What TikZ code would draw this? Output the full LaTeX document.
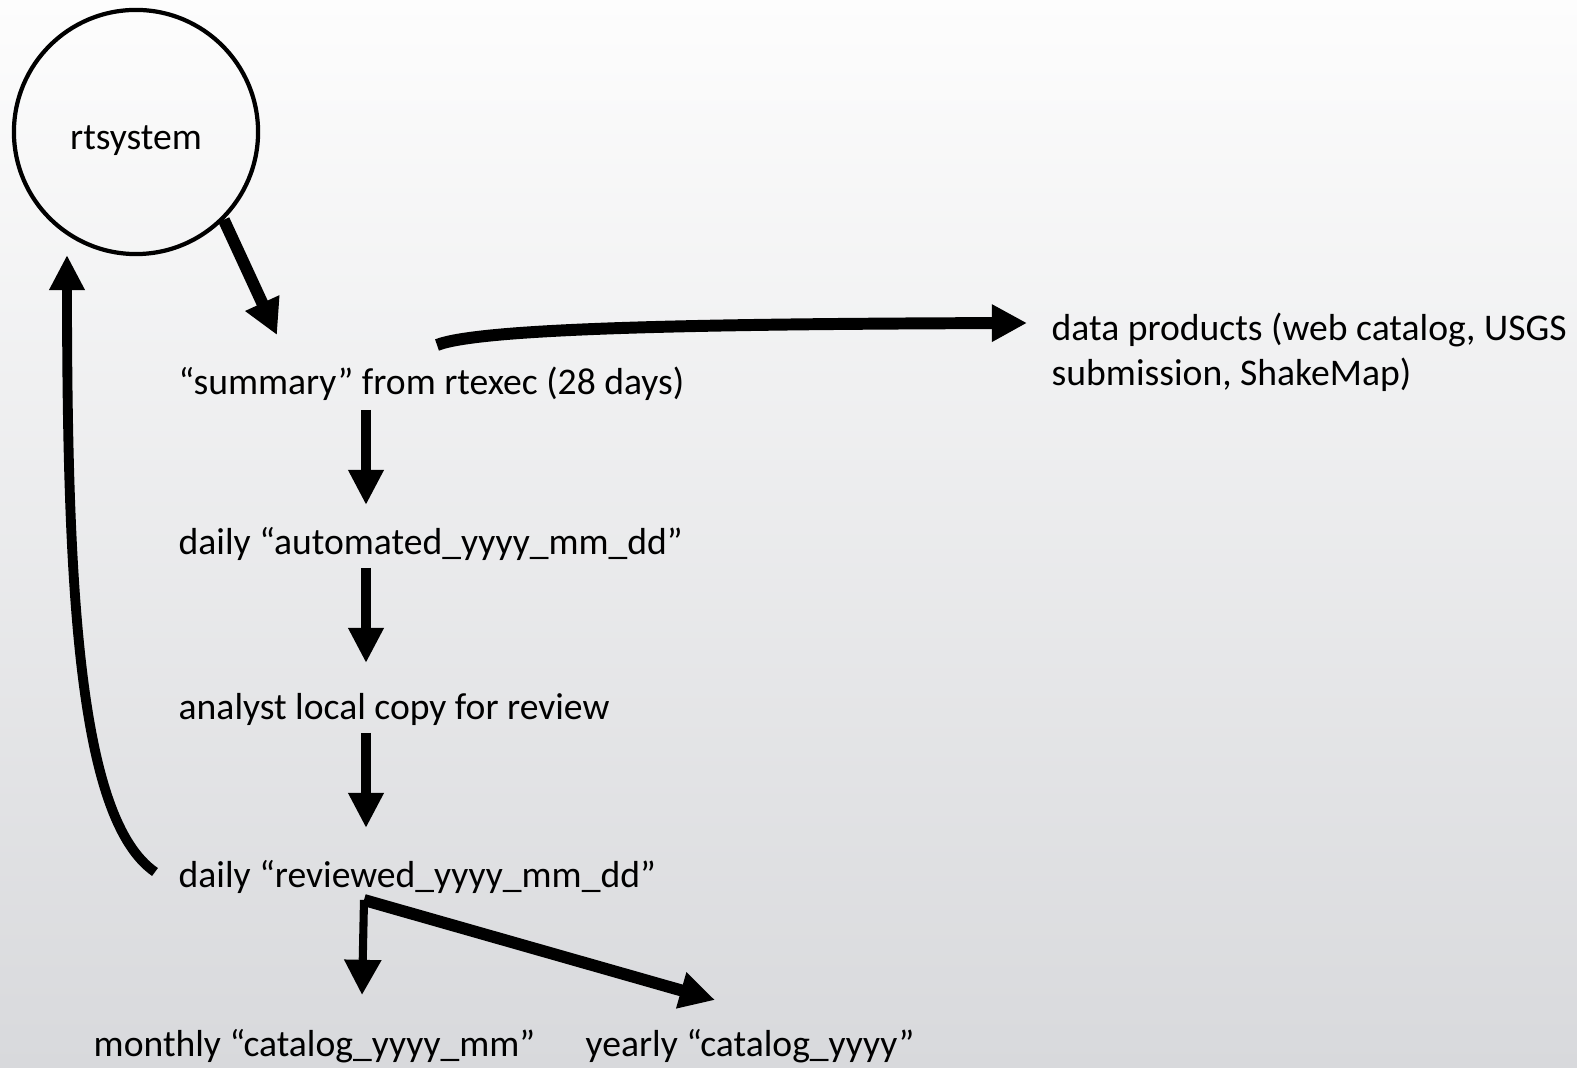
\documentclass[tikz,border=0pt]{standalone}
\usepackage{fontspec}
\setmainfont{Carlito}
\usetikzlibrary{arrows.meta}
\definecolor{bgtop}{RGB}{253,253,253}
\definecolor{bgbottom}{RGB}{216,217,220}

\begin{document}
\begin{tikzpicture}[x=0.01cm,y=-0.01cm,
  thick flow/.style={line width=3.4pt,-{Triangle[width=10pt,length=10pt]}},
  flow/.style={line width=2.8pt,-{Triangle[width=9.5pt,length=10pt]}},
  thin flow/.style={line width=2.3pt,-{Triangle[width=10pt,length=10pt]}},
  label node/.style={anchor=base west,inner sep=0pt,font=\fontsize{10.7}{12.8}\selectfont}]

  % background
  \shade[top color=bgtop,bottom color=bgbottom] (0,0) rectangle (1577,1068);

  \node[circle,draw,line width=1.2pt,minimum size=2.44cm,inner sep=0pt,
    text height=12.2pt,text depth=2pt,
    font=\fontsize{10.7}{12.8}\selectfont] (rt) at (136,132) {rtsystem};

  \node[label node] (sum) at (178,395) {“summary” from rtexec (28 days)};
  \node[label node] (auto) at (178,555) {daily “automated\_yyyy\_mm\_dd”};
  \node[label node] (anl) at (178,719) {analyst local copy for review};
  \node[label node] (rev) at (178,887) {daily “reviewed\_yyyy\_mm\_dd”};
  \node[label node] (mon) at (93,1056) {monthly “catalog\_yyyy\_mm”};
  \node[label node] (yr) at (585,1056) {yearly “catalog\_yyyy”};
  \node[label node,align=left] (prod) at (1051,386)
    {data products (web catalog, USGS\\submission, ShakeMap)};

  % free ends of the arrows
  \coordinate (sum-in) at (277,335);
  \coordinate (sum-out) at (437,345);
  \coordinate (sum-down) at (366,410);
  \coordinate (prod-in) at (1027,323);
  \coordinate (auto-in) at (366,505);
  \coordinate (auto-down) at (366,568);
  \coordinate (anl-in) at (366,663);
  \coordinate (anl-down) at (366,733);
  \coordinate (rev-in) at (366,828);
  \coordinate (rev-back) at (155,872);
  \coordinate (rt-in) at (67,255);
  \coordinate (fork) at (364,900);
  \coordinate (mon-in) at (362,995);
  \coordinate (yr-in) at (715,1000);

  \path
    (rt.-45) edge[thick flow] (sum-in)
    (sum-down) edge[flow] (auto-in)
    (auto-down) edge[flow] (anl-in)
    (anl-down) edge[flow] (rev-in)
    (fork) edge[thin flow] (mon-in)
    (fork) edge[thick flow] (yr-in)
    ;
  \draw[thick flow] (sum-out) .. controls (480,328) and (700,324) .. (prod-in);
  \draw[flow] (rev-back) .. controls (80,820) and (67,600) .. (rt-in);
\end{tikzpicture}
\end{document}
